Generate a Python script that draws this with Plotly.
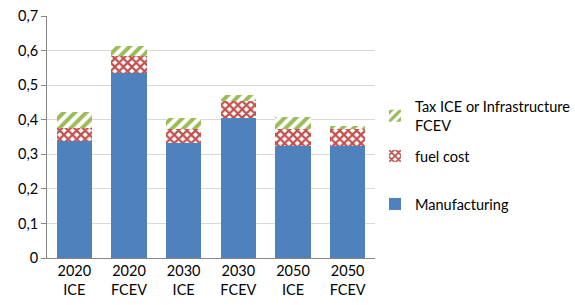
import plotly.graph_objects as go

categories = ["2020<br>ICE", "2020<br>FCEV", "2030<br>ICE", "2030<br>FCEV", "2050<br>ICE", "2050<br>FCEV"]
manufacturing = [0.338, 0.534, 0.334, 0.406, 0.324, 0.324]
fuel_cost = [0.038, 0.050, 0.039, 0.049, 0.049, 0.048]
tax_infra = [0.047, 0.030, 0.031, 0.017, 0.034, 0.011]
y_ticks = [0, 0.1, 0.2, 0.3, 0.4, 0.5, 0.6, 0.7]
y_tick_text = ["0", "0,1", "0,2", "0,3", "0,4", "0,5", "0,6", "0,7"]

FONT = "Lato"
FS = 14.5

fig = go.Figure()
fig.add_trace(go.Bar(
    x=categories, y=manufacturing, name="Manufacturing", legend="legend3",
    marker=dict(color="#4F81BD", line=dict(width=0)),
))
fig.add_trace(go.Bar(
    x=categories, y=fuel_cost, name="fuel cost", legend="legend2",
    marker=dict(color="white", line=dict(width=0),
                pattern=dict(shape="x", fgcolor="#C0504D", bgcolor="white",
                             size=6, solidity=0.6, fillmode="replace", fgopacity=1)),
))
fig.add_trace(go.Bar(
    x=categories, y=tax_infra, name="Tax ICE or Infrastructure<br>FCEV", legend="legend",
    marker=dict(color="white", line=dict(width=0),
                pattern=dict(shape="/", fgcolor="#9BBB59", bgcolor="white",
                             size=8, solidity=0.5, fillmode="replace", fgopacity=1)),
))

leg_common = dict(
    x=375 / 575, xref="container", yref="paper",
    xanchor="left", yanchor="middle",
    font=dict(family=FONT, size=FS, color="#000000"),
    itemwidth=30, bgcolor="rgba(0,0,0,0)",
)

fig.update_layout(
    barmode="stack",
    bargap=0.35,
    width=575, height=305,
    margin=dict(l=47, r=195, t=16, b=47),
    plot_bgcolor="white", paper_bgcolor="white",
    font=dict(family=FONT, size=FS, color="#000000"),
    showlegend=True,
    legend=dict(leg_common, y=0.587),
    legend2=dict(leg_common, y=0.4215),
    legend3=dict(leg_common, y=0.223),
    xaxis=dict(
        showgrid=False, showline=True, linecolor="#868686", linewidth=1,
        ticks="", automargin=False,
        tickfont=dict(family=FONT, size=FS, color="#000000"),
    ),
    yaxis=dict(
        range=[0, 0.7], tickvals=y_ticks, ticktext=y_tick_text,
        showgrid=True, gridcolor="#D9D9D9", gridwidth=1,
        showline=True, linecolor="#868686", linewidth=1,
        ticks="outside", ticklen=5, tickcolor="#868686",
        zeroline=False, automargin=False,
        tickfont=dict(family=FONT, size=FS, color="#000000"),
    ),
)

fig.write_html("out.html", config={"displayModeBar": False},
               post_script="document.body.style.margin='0';")
